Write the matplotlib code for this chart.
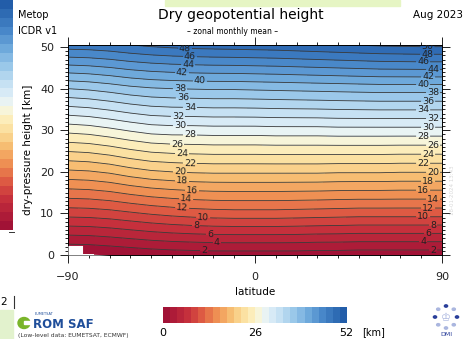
import numpy as np
import matplotlib
matplotlib.use("Agg")
import matplotlib.pyplot as plt
import matplotlib.patches as patches
from matplotlib.colors import LinearSegmentedColormap, BoundaryNorm

# latitude grid and dry-pressure height grid (km)
lats = [-90, -80, -70, -60, -50, -40, -30, -20, -10, 0, 10, 20, 30, 40, 50, 60, 70, 80, 90]
heights = [0, 10, 20, 30, 40, 51]

# dry geopotential height (km), one row per dry-pressure height
geo_h0 = [-0.4, -0.3, 0.0, 0.3, 0.6, 0.8, 0.9, 1.0, 1.0, 1.0, 1.0, 1.0, 0.9, 0.9, 0.8, 0.8, 0.8, 0.8, 0.8]
geo_h10 = [8.8, 8.9, 9.2, 9.7, 10.2, 10.6, 10.9, 11.1, 11.2, 11.2, 11.2, 11.1, 11.0, 10.9, 10.8, 10.8, 10.8, 10.8, 10.8]
geo_h20 = [17.6, 17.8, 18.3, 19.1, 19.7, 20.0, 20.2, 20.3, 20.3, 20.3, 20.3, 20.3, 20.3, 20.2, 20.2, 20.2, 20.1, 20.1, 20.1]
geo_h30 = [26.6, 26.9, 27.5, 28.2, 28.8, 29.0, 29.0, 29.1, 29.1, 29.1, 29.2, 29.2, 29.2, 29.3, 29.3, 29.3, 29.3, 29.3, 29.3]
geo_h40 = [36.0, 36.3, 36.8, 37.4, 37.8, 38.0, 38.1, 38.2, 38.2, 38.3, 38.4, 38.5, 38.6, 38.7, 38.8, 38.9, 38.9, 38.9, 38.9]
geo_h51 = [47.6, 47.7, 48.0, 48.5, 48.9, 49.2, 49.4, 49.5, 49.6, 49.7, 49.8, 50.0, 50.2, 50.4, 50.6, 50.8, 50.9, 51.0, 51.0]

# region without data near the Antarctic surface
surface_lat = [-90, -83, -83, -70]
surface_h = [2.3, 2.3, 0.3, 0.0]

levels = list(range(0, 54, 2))
line_levels = list(range(2, 52, 2))

# where the contour labels sit (lat, height)
label_pos_mid = [(-24.5, 1.0), (-18.3, 2.7), (-21.7, 4.6), (-28.4, 6.8), (-25.0, 8.7),
                 (-35.1, 11.1), (-33.2, 13.0), (-30.3, 15.5), (-35.1, 17.9), (-36.1, 20.0),
                 (-31.3, 22.7), (-35.1, 24.9), (-37.5, 27.3), (-31.3, 29.2), (-36.1, 31.4),
                 (-37.1, 33.6), (-31.3, 35.7), (-34.7, 37.9), (-36.1, 40.1), (-26.5, 42.0),
                 (-35.1, 44.2), (-32.2, 45.9), (-31.3, 47.6), (-33.7, 49.3)]
label_pos_right = [(85.7, 1.2), (80.9, 3.1), (83.3, 5.1), (85.7, 7.0), (80.9, 9.2),
                   (83.3, 11.1), (85.7, 13.3), (80.9, 15.5), (83.3, 17.9), (85.7, 19.8),
                   (80.9, 22.0), (83.3, 24.2), (85.7, 26.3), (80.9, 28.7), (83.3, 30.7),
                   (85.7, 33.1), (80.9, 35.5), (83.3, 37.4), (85.7, 39.6), (80.9, 41.1),
                   (83.3, 42.8), (85.7, 44.7), (80.9, 46.4), (82.8, 48.3), (83.0, 50.2)]

W, H = 464, 339


def fx(x):
    return x / W


def fy(y):
    return 1 - y / H


cmap = LinearSegmentedColormap.from_list("geo", [
    (0 / 52, '#a11236'), (6 / 52, '#c52f3c'), (10 / 52, '#dc5542'),
    (14 / 52, '#ee8a50'), (18 / 52, '#f6b86c'), (22 / 52, '#fbdc98'),
    (26 / 52, '#fdf4c8'), (28 / 52, '#f0f7f0'), (30 / 52, '#e2f0f8'),
    (34 / 52, '#c0def2'), (38 / 52, '#93c4e8'), (42 / 52, '#6aa6da'),
    (46 / 52, '#4685c8'), (52 / 52, '#215ca8')])
norm = BoundaryNorm(levels, cmap.N)

fig = plt.figure(figsize=(W / 100, H / 100), dpi=100)

# main panel
ax = fig.add_axes([fx(68), fy(255), fx(442) - fx(68), fy(45) - fy(255)])
Z = np.array([geo_h0, geo_h10, geo_h20, geo_h30, geo_h40, geo_h51])
ax.contourf(lats, heights, Z, levels=levels, cmap=cmap, norm=norm)
cs = ax.contour(lats, heights, Z, levels=line_levels, colors='#3a3a3a', linewidths=0.6)
labels = ax.clabel(cs, fmt='%d', fontsize=6.8, colors='#222222', inline=True,
                   inline_spacing=1, manual=label_pos_mid + label_pos_right)
for t in labels:
    t.set_clip_on(True)
    t.set_clip_box(ax.bbox)
ax.fill_between(surface_lat, 0, surface_h, color='white', zorder=3, lw=0)

ax.set_xlim(-90, 90)
ax.set_ylim(0, 50.5)
ax.set_xticks([-90, 0, 90])
ax.set_xticks(range(-90, 91, 10), minor=True)
ax.set_yticks(range(0, 51, 10))
ax.set_yticks(range(0, 51, 1), minor=True)
ax.tick_params(which='both', top=True, right=True, direction='out', labelsize=8,
               colors='#222222', width=0.7)
ax.tick_params(which='major', length=6, pad=4)
ax.tick_params(which='minor', length=2.5)
ax.tick_params(axis='x', which='major', pad=6)
ax.set_xlabel('latitude', fontsize=7.5, labelpad=4)
ax.set_ylabel('dry-pressure height [km]', fontsize=7.5, labelpad=5)
for s in ax.spines.values():
    s.set_linewidth(0.7)

# header texts
fig.text(fx(241), fy(15), 'Dry geopotential height', fontsize=10, ha='center', va='center')
fig.text(fx(233), fy(31), '– zonal monthly mean –', fontsize=5.5, ha='center', va='center')
fig.text(fx(463), fy(15), 'Aug 2023', fontsize=7.5, ha='right', va='center')
fig.text(fx(18), fy(15), 'Metop', fontsize=7, ha='left', va='center')
fig.text(fx(18), fy(31), 'ICDR v1', fontsize=7, ha='left', va='center')
fig.patches.append(patches.Rectangle((fx(165), fy(6)), fx(235), fy(0) - fy(6),
                                     transform=fig.transFigure, color='#e6f5c4', zorder=0))

# neighbouring panel's colour bar, cut at the left edge
lax = fig.add_axes([0, fy(230), fx(13), fy(0) - fy(230)])
lax.imshow(np.array(levels[:-1])[::-1].reshape(-1, 1) + 1, cmap=cmap, norm=norm,
           aspect='auto', extent=[0, 1, 0, 52])
lax.set_ylim(0, 52)
lax.axis('off')
fig.lines.append(plt.Line2D([fx(9), fx(14)], [fy(232), fy(232)], color='#333333', lw=0.7,
                            transform=fig.transFigure))
fig.text(fx(0), fy(302), '2', fontsize=7.5, ha='left', va='center')
fig.lines.append(plt.Line2D([fx(14), fx(14)], [fy(296), fy(308)], color='#333333', lw=0.8,
                            transform=fig.transFigure))
fig.patches.append(patches.Rectangle((0, 0), fx(13), fy(310), transform=fig.transFigure,
                                     color='#e2f2cd', zorder=0))

# bottom colour bar
cax = fig.add_axes([fx(163), fy(323), fx(347) - fx(163), fy(307) - fy(323)])
cax.imshow(np.array(levels[:-1]).reshape(1, -1) + 1, cmap=cmap, norm=norm,
           aspect='auto', extent=[0, 52, 0, 1])
cax.axis('off')
fig.text(fx(163), fy(333), '0', fontsize=8, ha='center', va='center')
fig.text(fx(255), fy(333), '26', fontsize=8, ha='center', va='center')
fig.text(fx(346), fy(333), '52', fontsize=8, ha='center', va='center')
fig.text(fx(362), fy(332), '[km]', fontsize=7, ha='left', va='center')

# ROM SAF logo
fig.patches.append(patches.Ellipse((fx(24), fy(323)), fx(12), fy(0) - fy(11),
                                   transform=fig.transFigure, color='#7ab52a'))
fig.patches.append(patches.Rectangle((fx(24), fy(324)), fx(8), fy(0) - fy(3),
                                     transform=fig.transFigure, color='white'))
fig.text(fx(35), fy(314), 'EUMETSAT', fontsize=2.5, color='#1f4e9a', ha='left', va='center')
fig.text(fx(33), fy(324), 'ROM SAF', fontsize=8.5, weight='bold', color='#1f4e9a',
         ha='left', va='center')
fig.text(fx(18), fy(335), '(Low-level data: EUMETSAT, ECMWF)', fontsize=4.3, ha='left',
         va='center', color='#333333')

# DMI logo
ang = np.linspace(0, 2 * np.pi, 9)[:-1]
dot_cols = ['#2a3f9a', '#aab6df', '#2a3f9a', '#aab6df', '#aab6df', '#aab6df', '#2a3f9a', '#aab6df']
for a, c in zip(ang, dot_cols):
    fig.patches.append(patches.Circle((fx(446 + 11 * np.sin(a)), fy(317 - 11 * np.cos(a))),
                                      1.6 / W, transform=fig.transFigure, color=c))
fig.text(fx(446), fy(318), '♔', fontsize=8, color='#aab6df', ha='center', va='center')
fig.text(fx(446), fy(334), 'DMI', fontsize=4.5, color='#2a3f9a', ha='center', va='center')

fig.text(fx(453), fy(190), '18-01-2024 13:43', fontsize=4, color='#d8d8d8', rotation=90,
         ha='center', va='center')

fig.savefig('out.png', dpi=100)
